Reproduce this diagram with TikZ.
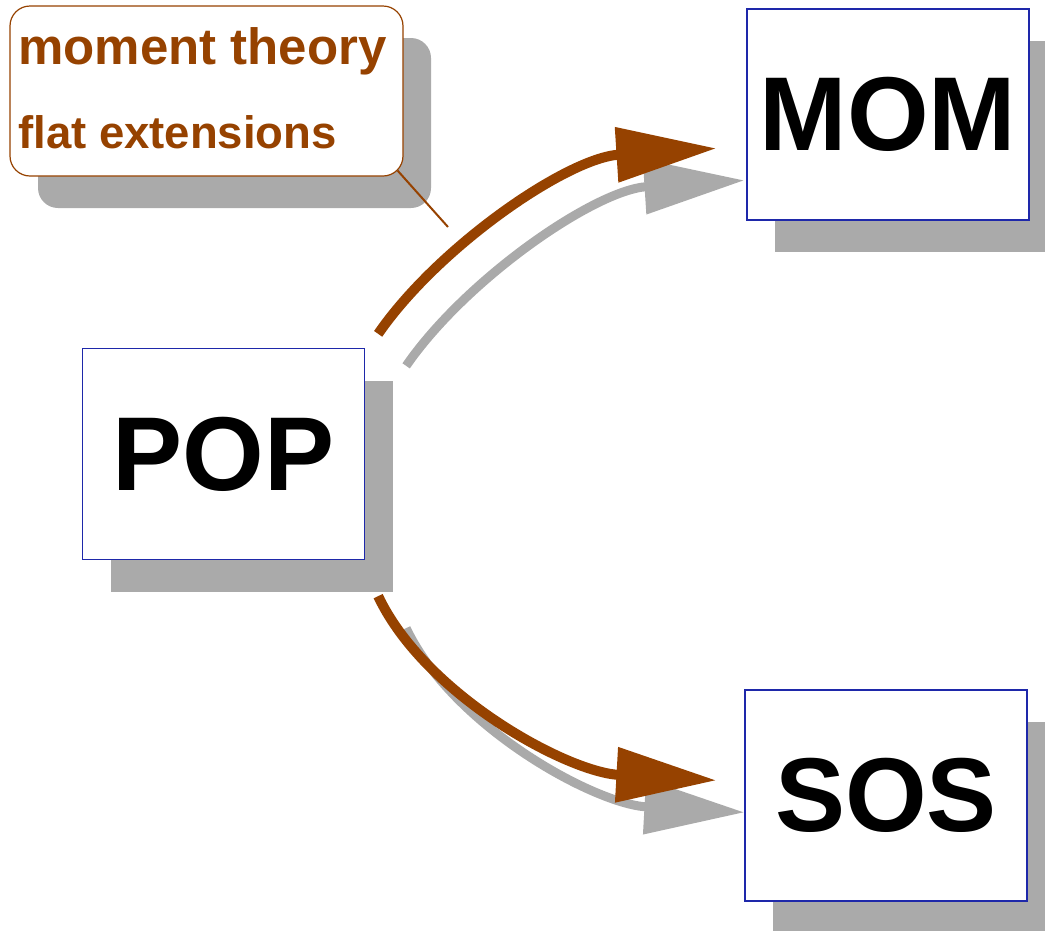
\documentclass[tikz,border=0pt]{standalone}
\usepackage{fontspec}
\setmainfont{Liberation Sans}
\usetikzlibrary{arrows.meta,shadows}
\definecolor{notebrown}{RGB}{150,66,0}
\definecolor{shadowgray}{RGB}{170,170,170}
\definecolor{boxblue}{RGB}{30,40,170}
\begin{document}
\begin{tikzpicture}[
          x=1pt, y=-1pt,
          gshadow/.style={drop shadow={shadow xshift=28pt, shadow yshift=-32pt, fill=shadowgray, opacity=1}},
          box/.style={draw=boxblue, line width=1.3pt, fill=white, inner sep=0pt,
            minimum width=282pt, minimum height=211pt, gshadow,
            font=\fontsize{105}{108}\selectfont\bfseries},
          note/.style={draw=notebrown, line width=1.2pt, fill=white, rounded corners=20pt,
            minimum width=393pt, minimum height=170pt, gshadow},
          notetext/.style={anchor=base west, inner sep=0pt, text=notebrown},
          fat/.style={line width=10pt, draw=notebrown, -{Triangle[length=100pt,width=53pt]}},
          ghost/.style={fat, line width=9pt, draw=shadowgray}
        ]
        \clip (0,0) rectangle (1045,930);
        % callout
        \node[note] (note) at (206.5,91) {};
        \node[notetext, font=\fontsize{51}{53}\selectfont\bfseries] (thy) at (18,64) {moment theory};
        \node[notetext, font=\fontsize{45.5}{47}\selectfont\bfseries] (ext) at (18,148) {flat extensions};
        \coordinate (pin) at (448,227);
        \draw[notebrown, line width=2pt] ([shift={(-6,-6)}]note.south east) -- (pin);
        % boxes
        \node[box] (mom) at (888,114.5) {MOM};
        \node[box] (pop) at (223.5,454) {POP};
        \node[box] (sos) at (886,795.5) {SOS};
        % arrows
        \coordinate (upT) at ([shift={(13,-14)}]pop.north east);
        \coordinate (dnT) at ([shift={(13,36)}]pop.south east);
        \coordinate (upH) at ([shift={(-30,140)}]mom.north west);
        \coordinate (dnH) at ([shift={(-28,91)}]sos.north west);
        \draw[ghost] ([shift={(28,32)}]upT) .. controls (466,279) and (595,190) .. ([shift={(28,32)}]upH);
        \draw[ghost] ([shift={(28,32)}]dnT) .. controls (453,727) and (595,804) .. ([shift={(28,32)}]dnH);
        \draw[fat] (upT) .. controls (438,247) and (567,158) .. (upH);
        \draw[fat] (dnT) .. controls (425,695) and (567,772) .. (dnH);
\end{tikzpicture}
\end{document}
